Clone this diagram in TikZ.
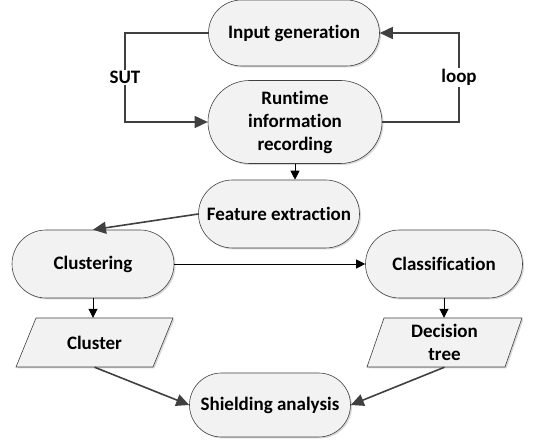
\documentclass[tikz,border=0pt]{standalone}
\usepackage{fontspec}
\setmainfont{Carlito}[Ligatures={NoCommon,NoRare}]
\usetikzlibrary{shapes.misc,arrows.meta,shadows}
\definecolor{boxfill}{RGB}{242,242,242}
\definecolor{linegray}{RGB}{64,64,64}
\tikzset{
  stad/.style={rounded rectangle, draw=black!75, line width=0.6pt, fill=boxfill,
    font=\fontsize{19}{23}\selectfont\bfseries, align=center, inner sep=0pt,
    drop shadow={shadow xshift=1.5pt, shadow yshift=-1.5pt, fill=black!30, opacity=0.5}},
  para/.style={draw=black!75, line width=0.6pt, fill=boxfill},
  paratext/.style={font=\fontsize{19}{23}\selectfont\bfseries, align=center, inner sep=0pt, minimum height=49pt, minimum width=120pt},
  bigarrow/.style={draw=linegray, line width=1.6pt, -{Triangle[length=13pt,width=12pt]}},
  smallarrow/.style={draw=black, line width=0.9pt, -{Triangle[length=9pt,width=9pt]}},
  lbl/.style={fill=white, font=\fontsize{19}{23}\selectfont\bfseries, inner sep=1pt},
}
\begin{document}
\begin{tikzpicture}[x=1pt,y=-1pt]
\useasboundingbox (0,0) rectangle (550,446);
\node[stad, minimum width=171pt, minimum height=66pt] (ig) at (294,33) {Input generation};
\node[stad, minimum width=174pt, minimum height=83pt] (rr) at (295,122) {Runtime\\information\\recording};
\node[stad, minimum width=161pt, minimum height=68pt] (fe) at (279,214) {Feature extraction};
\node[stad, minimum width=162pt, minimum height=68pt] (clu) at (93,264) {Clustering};
\node[stad, minimum width=157pt, minimum height=68pt] (cla) at (444,264) {Classification};
\node[stad, minimum width=161pt, minimum height=64pt] (sa) at (270,405) {Shielding analysis};
% parallelograms
\path[para, drop shadow={shadow xshift=1.5pt, shadow yshift=-1.5pt, fill=black!30, opacity=0.5}] (36,318) -- (173,318) -- (153,367) -- (16,367) -- cycle;
\path[para, drop shadow={shadow xshift=1.5pt, shadow yshift=-1.5pt, fill=black!30, opacity=0.5}] (384,318) -- (522,318) -- (505,367) -- (367,367) -- cycle;
\node[paratext] (cl) at (94.5,342.5) {Cluster};
\node[paratext] (dt) at (444.5,342.5) {Decision\\tree};
% loop connectors
\coordinate (sutx) at (125,0);
\coordinate (loopx) at (459,0);
\draw[bigarrow] (ig.west) -- (ig.west -| sutx) -- node[lbl]{SUT} (rr.west -| sutx) -- (rr.west);
\draw[bigarrow] (rr.east) -- (rr.east -| loopx) -- node[lbl]{loop} (ig.east -| loopx) -- (ig.east);
% other connectors
\draw[smallarrow] (rr.south) -- (rr.south |- fe.north);
\draw[bigarrow] (fe.west) -- (clu.north);
\draw[smallarrow] (clu.east) -- (cla.west);
\draw[smallarrow] (clu.south) -- (clu.south |- cl.north);
\draw[smallarrow] (cla.south) -- (cla.south |- dt.north);
\draw[bigarrow] (cl.south) -- (sa.west);
\draw[bigarrow] (dt.south) -- (sa.east);
\end{tikzpicture}
\end{document}
